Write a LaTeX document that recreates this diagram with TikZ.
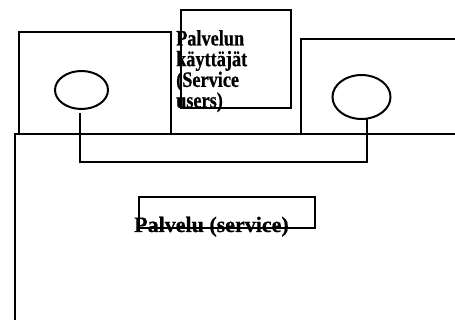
\documentclass[tikz,border=0pt]{standalone}
\usepackage{fontspec}
\setmainfont{Liberation Serif}
\newfontfamily\narrowbold[FakeStretch=0.83,FakeBold=0.6]{Liberation Serif Bold}
\newfontfamily\heavybold[FakeBold=0.6]{Liberation Serif Bold}
\begin{document}
\begin{tikzpicture}[x=1pt,y=-1pt,
  line/.style={line width=2pt,black},
  boxx/.style={draw,line width=2pt,inner sep=0pt,anchor=north west},
  lbl/.style={inner sep=0pt}]
\useasboundingbox (0,0) rectangle (455,320);
\clip (0,0) rectangle (455,320);
\fill[white] (0,0) rectangle (455,320);
% large service area
\node[boxx,minimum width=460pt,minimum height=200pt] (big) at (14,133) {};
% user boxes
\node[boxx,minimum width=152pt,minimum height=102pt] (lbox) at (18,31) {};
\node[boxx,minimum width=160pt,minimum height=95pt] (rbox) at (300,38) {};
\node[boxx,minimum width=110pt,minimum height=98pt] (mbox) at (180,9) {};
% ellipses
\draw[line] (81.5,90) ellipse [x radius=26.5, y radius=19];
\draw[line] (361.5,97) ellipse [x radius=29, y radius=22];
\coordinate (le) at (80,113);
\coordinate (re) at (367,119);
\coordinate (lb) at (80,162);
\coordinate (rb) at (367,162);
\draw[line] (le) -- (lb) -- (rb) -- (re);
% service box
\node[boxx,minimum width=176pt,minimum height=31pt] (sbox) at (138,196) {};
% texts
\node[lbl,anchor=north west,align=left,font=\narrowbold\fontsize{22}{20.7}\selectfont] (users) at (176,30) {Palvelun\\käyttäjät\\(Service\\users)};
\node[lbl,anchor=base west,font=\heavybold\fontsize{22}{24}\selectfont] (serv) at (134,232) {Palvelu (service)};
\end{tikzpicture}
\end{document}
